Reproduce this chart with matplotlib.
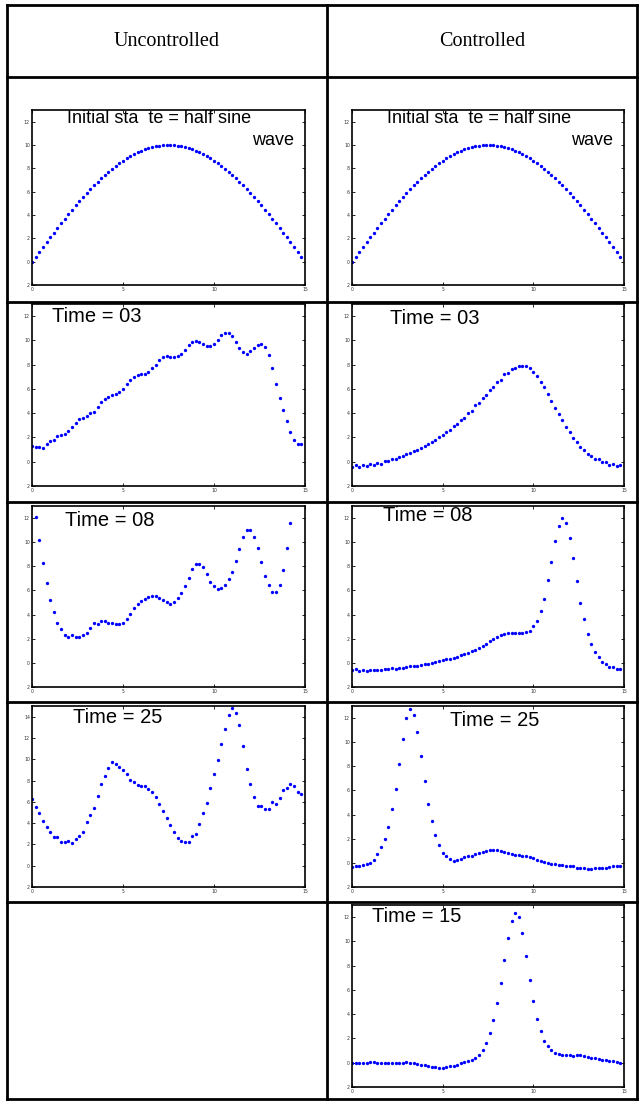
import matplotlib
matplotlib.use('Agg')
import matplotlib.pyplot as plt
from matplotlib.lines import Line2D
import numpy as np

# ---------------- data ----------------
X = [round(0.2 * i, 1) for i in range(75)]

initial_state = [0.0, 0.419, 0.837, 1.253, 1.668, 2.079, 2.487, 2.890, 3.289, 3.681,
                 4.067, 4.446, 4.818, 5.180, 5.534, 5.878, 6.211, 6.534, 6.845, 7.145,
                 7.431, 7.705, 7.965, 8.211, 8.443, 8.660, 8.862, 9.048, 9.219, 9.373,
                 9.511, 9.632, 9.736, 9.823, 9.893, 9.945, 9.980, 9.998, 9.998, 9.980,
                 9.945, 9.893, 9.823, 9.736, 9.632, 9.511, 9.373, 9.219, 9.048, 8.862,
                 8.660, 8.443, 8.211, 7.965, 7.705, 7.431, 7.145, 6.845, 6.534, 6.211,
                 5.878, 5.534, 5.180, 4.818, 4.446, 4.067, 3.681, 3.289, 2.890, 2.487,
                 2.079, 1.668, 1.253, 0.837, 0.419]

unc_t03 = [1.33, 1.19, 1.19, 1.13, 1.46, 1.68, 1.77, 2.13, 2.18, 2.27,
           2.57, 2.85, 3.20, 3.50, 3.62, 3.81, 3.98, 4.14, 4.50, 4.92,
           5.14, 5.36, 5.50, 5.61, 5.75, 6.02, 6.44, 6.77, 6.99, 7.15,
           7.21, 7.27, 7.43, 7.73, 7.98, 8.37, 8.65, 8.70, 8.65, 8.62,
           8.73, 8.92, 9.25, 9.64, 9.86, 9.97, 9.89, 9.67, 9.50, 9.56,
           9.67, 10.03, 10.41, 10.58, 10.58, 10.33, 9.83, 9.36, 9.06, 8.90,
           9.12, 9.39, 9.61, 9.67, 9.45, 8.76, 7.73, 6.44, 5.28, 4.28,
           3.34, 2.49, 1.82, 1.49, 1.46]

unc_t08 = [13.9, 12.07, 10.19, 8.26, 6.63, 5.25, 4.23, 3.34, 2.82, 2.32,
           2.13, 2.32, 2.13, 2.13, 2.35, 2.46, 2.93, 3.29, 3.26, 3.45,
           3.51, 3.34, 3.29, 3.18, 3.18, 3.34, 3.62, 4.06, 4.53, 4.89,
           5.11, 5.28, 5.44, 5.58, 5.58, 5.36, 5.17, 5.08, 4.86, 5.03,
           5.39, 5.80, 6.41, 7.07, 7.76, 8.20, 8.20, 7.93, 7.38, 6.71,
           6.33, 6.13, 6.24, 6.44, 6.91, 7.57, 8.43, 9.45, 10.39, 11.00,
           11.05, 10.39, 9.48, 8.40, 7.18, 6.44, 5.91, 5.91, 6.49, 7.71,
           9.48, 11.55, 13.6, 14.5, 15.0]

unc_t25 = [6.24, 5.55, 4.98, 4.17, 3.67, 3.20, 2.73, 2.66, 2.19, 2.26,
           2.32, 2.10, 2.54, 2.82, 3.13, 4.08, 4.73, 5.42, 6.58, 7.65,
           8.46, 9.22, 9.75, 9.59, 9.25, 9.03, 8.65, 8.09, 7.84, 7.55,
           7.46, 7.46, 7.24, 6.90, 6.43, 5.80, 5.14, 4.45, 3.79, 3.17,
           2.57, 2.35, 2.23, 2.26, 2.76, 3.01, 3.89, 4.92, 5.92, 7.27,
           8.59, 9.91, 11.47, 12.88, 14.20, 14.83, 14.36, 13.17, 11.22, 9.09,
           7.65, 6.49, 5.58, 5.64, 5.30, 5.30, 5.96, 5.83, 6.33, 7.08,
           7.27, 7.65, 7.49, 6.90, 6.74]

ctl_t03 = [-0.44, -0.30, -0.44, -0.28, -0.39, -0.22, -0.28, -0.11, -0.17, 0.03,
           0.03, 0.19, 0.22, 0.39, 0.44, 0.63, 0.72, 0.88, 0.99, 1.16,
           1.29, 1.46, 1.63, 1.79, 2.01, 2.20, 2.45, 2.64, 2.95, 3.11,
           3.47, 3.64, 4.05, 4.21, 4.66, 4.82, 5.29, 5.48, 5.95, 6.14,
           6.58, 6.75, 7.19, 7.30, 7.63, 7.74, 7.93, 7.91, 7.91, 7.69,
           7.41, 7.05, 6.58, 6.12, 5.59, 5.01, 4.46, 3.94, 3.42, 2.87,
           2.42, 1.96, 1.65, 1.21, 0.99, 0.61, 0.50, 0.22, 0.19, -0.06,
           -0.03, -0.25, -0.19, -0.36, -0.28]

ctl_t08 = [-0.61, -0.52, -0.66, -0.55, -0.66, -0.55, -0.63, -0.55, -0.58, -0.52,
           -0.52, -0.44, -0.47, -0.39, -0.39, -0.33, -0.30, -0.25, -0.22, -0.17,
           -0.11, -0.06, 0.00, 0.08, 0.14, 0.22, 0.28, 0.36, 0.44, 0.52,
           0.63, 0.74, 0.85, 0.96, 1.10, 1.24, 1.43, 1.60, 1.79, 1.98,
           2.18, 2.31, 2.40, 2.45, 2.51, 2.48, 2.48, 2.45, 2.53, 2.64,
           3.03, 3.47, 4.33, 5.32, 6.83, 8.32, 10.14, 11.32, 12.01, 11.60,
           10.36, 8.65, 6.75, 4.99, 3.61, 2.40, 1.57, 0.88, 0.52, 0.06,
           -0.08, -0.36, -0.36, -0.52, -0.50]

ctl_t25 = [-0.33, -0.27, -0.25, -0.16, -0.11, 0.03, 0.27, 0.71, 1.29, 1.98,
           2.97, 4.45, 6.15, 8.19, 10.30, 12.03, 12.75, 12.25, 10.82, 8.82,
           6.76, 4.89, 3.43, 2.31, 1.51, 0.85, 0.58, 0.33, 0.19, 0.25,
           0.33, 0.47, 0.55, 0.60, 0.71, 0.80, 0.88, 0.99, 1.04, 1.04,
           1.04, 0.99, 0.91, 0.82, 0.74, 0.69, 0.63, 0.58, 0.55, 0.49,
           0.38, 0.27, 0.16, 0.08, -0.05, -0.08, -0.11, -0.16, -0.19, -0.22,
           -0.27, -0.30, -0.41, -0.41, -0.44, -0.49, -0.47, -0.44, -0.41, -0.41,
           -0.41, -0.38, -0.27, -0.25, -0.25]

ctl_t15 = [-0.03, -0.03, -0.03, -0.03, -0.03, 0.03, 0.03, 0.00, 0.00, 0.00,
           0.00, 0.00, 0.00, 0.00, 0.00, 0.03, -0.03, -0.05, -0.08, -0.16,
           -0.22, -0.30, -0.33, -0.36, -0.41, -0.44, -0.38, -0.30, -0.25, -0.16,
           -0.05, 0.03, 0.14, 0.25, 0.41, 0.66, 1.07, 1.65, 2.45, 3.52,
           4.92, 6.59, 8.46, 10.27, 11.70, 12.36, 11.98, 10.66, 8.76, 6.84,
           5.08, 3.63, 2.61, 1.81, 1.35, 1.04, 0.80, 0.69, 0.66, 0.63,
           0.60, 0.58, 0.63, 0.60, 0.52, 0.47, 0.41, 0.36, 0.33, 0.25,
           0.22, 0.14, 0.11, 0.05, 0.00]

column_titles = ["Uncontrolled", "Controlled"]
XTICKS = [0, 5, 10, 15]
YTICKS_A = [-2, 0, 2, 4, 6, 8, 10, 12]
YLABELS_A = ["2", "0", "2", "4", "6", "8", "10", "12"]
YTICKS_B = [-2, 0, 2, 4, 6, 8, 10, 12, 14]
YLABELS_B = ["2", "0", "2", "4", "6", "8", "10", "12", "14"]

# ---------------- figure ----------------
W, H = 639, 1101
fig = plt.figure(figsize=(W / 100, H / 100), dpi=100)
fig.patch.set_facecolor('white')


def hline(y, x0, x1):
    fig.add_artist(Line2D([x0 / W, x1 / W], [1 - y / H, 1 - y / H], color='black', lw=2.0,
                          solid_capstyle='projecting'))


def vline(x, y0, y1):
    fig.add_artist(Line2D([x / W, x / W], [1 - y0 / H, 1 - y1 / H], color='black', lw=2.0,
                          solid_capstyle='projecting'))


for yy in [5, 77, 302, 502, 702, 902, 1099]:
    hline(yy, 7, 637)
for xx in [7, 327, 637]:
    vline(xx, 5, 1099)

fig.text(167 / W, 1 - 41 / H, column_titles[0], family='Liberation Serif', fontsize=14.5,
         ha='center', va='center')
fig.text(482 / W, 1 - 41 / H, column_titles[1], family='Liberation Serif', fontsize=14.5,
         ha='center', va='center')

COLS = {0: (32, 305), 1: (352, 624)}


def panel(col, top, bot, y, ylim, yticks, ylabels):
    l, r = COLS[col]
    ax = fig.add_axes([l / W, 1 - bot / H, (r - l) / W, (bot - top) / H])
    ax.plot(X, y, 'o', ms=2.4, mec='none', mfc='#0000ff')
    ax.set_xlim(0, 15)
    ax.set_ylim(*ylim)
    ax.set_xticks(XTICKS)
    ax.set_xticklabels([str(v) for v in XTICKS])
    ax.set_yticks(yticks)
    ax.set_yticklabels(ylabels)
    ax.tick_params(direction='in', length=2.2, width=0.6, top=True, right=True,
                   labelsize=3.3, pad=1.5, labelcolor='#333333', color='black')
    for s in ax.spines.values():
        s.set_linewidth(1.2)
    return ax


def label(ax, tx, ty, s, size=14.5):
    ax.text(tx, ty, s, family='Liberation Sans', fontsize=size, ha='left', va='center')


for col in (0, 1):
    ax = panel(col, 110, 285, initial_state, (-2, 13), YTICKS_A, YLABELS_A)
    label(ax, 1.93, 12.3, "Initial sta  te = half sine", size=13)
    label(ax, 12.1, 10.4, "wave", size=13)

ax = panel(0, 304, 486, unc_t03, (-2, 13), YTICKS_A, YLABELS_A)
label(ax, 1.1, 12.0, "Time = 03")
ax = panel(1, 304, 486, ctl_t03, (-2, 13), YTICKS_A, YLABELS_A)
label(ax, 2.1, 11.8, "Time = 03")

ax = panel(0, 506, 687, unc_t08, (-2, 13), YTICKS_A, YLABELS_A)
label(ax, 1.83, 11.8, "Time = 08")
ax = panel(1, 506, 687, ctl_t08, (-2, 13), YTICKS_A, YLABELS_A)
label(ax, 1.7, 12.2, "Time = 08")

ax = panel(0, 706, 887, unc_t25, (-2, 15), YTICKS_B, YLABELS_B)
label(ax, 2.26, 13.9, "Time = 25")
ax = panel(1, 706, 887, ctl_t25, (-2, 13), YTICKS_A, YLABELS_A)
label(ax, 5.4, 11.8, "Time = 25")

ax = panel(1, 905, 1087, ctl_t15, (-2, 13), YTICKS_A, YLABELS_A)
label(ax, 1.1, 12.06, "Time = 15")

fig.savefig('out.png', dpi=100, facecolor='white')
